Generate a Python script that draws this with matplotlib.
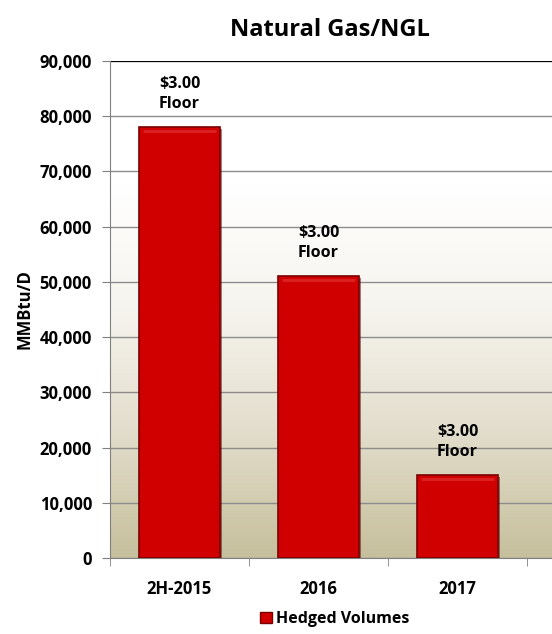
import matplotlib.pyplot as plt
import matplotlib.patheffects as pe
import numpy as np
from matplotlib.colors import LinearSegmentedColormap
from matplotlib.patches import Patch

# hedged volumes per period
periods = ['2H-2015', '2016', '2017']
volumes = [78000, 51000, 15000]
floor_labels = ['$3.00\nFloor', '$3.00\nFloor', '$3.00\nFloor']

plt.rcParams['font.family'] = ['Open Sans', 'DejaVu Sans']
plt.rcParams['font.weight'] = 'bold'

fig = plt.figure(figsize=(5.52, 6.34), dpi=100)
ax = fig.add_axes([110 / 552, 1 - 558 / 634, 1 - 110 / 552, (558 - 61) / 634])

x = np.arange(len(periods))
ax.set_xlim(-0.5, -0.5 + (552 - 110) / 139)
ax.set_ylim(0, 90000)

# white-to-tan gradient behind the bars
bg = LinearSegmentedColormap.from_list('bg', ['#c6bf9c', '#e2ddcb', '#f6f4ee', '#ffffff', '#ffffff'])
grad = np.linspace(0, 1, 256).reshape(-1, 1)
ax.imshow(grad, cmap=bg, aspect='auto', origin='lower',
          extent=[-0.5, 2.7, 0, 90000], zorder=0)

ax.yaxis.grid(True, color='#8c8c8c', linewidth=1)
ax.set_axisbelow(True)
ax.axhline(90000, color='black', linewidth=1.5, zorder=1)

bars = ax.bar(x, volumes, width=0.58, color='#d00000', edgecolor='#7a0000',
              linewidth=1.2, zorder=3)
for b in bars:
    b.set_path_effects([pe.SimplePatchShadow(offset=(1.5, -1.5), shadow_rgbFace='#4a0000', alpha=0.5),
                        pe.Normal()])
    # soft bevel along the top of each bar
    ax.plot([b.get_x() + 0.03, b.get_x() + b.get_width() - 0.03],
            [b.get_height() - 700] * 2, color='#e23a3a', linewidth=2.0, alpha=0.6,
            zorder=4, solid_capstyle='butt')

for xi, v, lab in zip(x, volumes, floor_labels):
    ax.annotate(lab, (xi, v), xytext=(0, 11), textcoords='offset points',
                ha='center', va='bottom', fontsize=11.5, fontweight='bold',
                linespacing=1.35)

ax.set_yticks(np.arange(0, 90001, 10000))
ax.set_yticklabels([f'{v:,}' for v in range(0, 90001, 10000)], fontsize=12,
                   fontweight='bold')
ax.set_xticks(x)
ax.set_xticklabels(periods, fontsize=12, fontweight='bold')
ax.set_xticks(np.arange(-0.5, 3, 1), minor=True)
ax.tick_params(axis='x', which='major', length=0, pad=16)
ax.tick_params(axis='x', which='minor', length=6, color='#808080', direction='out')
ax.tick_params(axis='y', length=6, color='#808080', pad=7)

for s in ['top', 'right']:
    ax.spines[s].set_visible(False)
ax.spines['left'].set_color('#808080')
ax.spines['bottom'].set_color('#808080')

ax.set_ylabel('MMBtu/D', fontsize=12, fontweight='bold', labelpad=4)

fig.text(330 / 552, 1 - 30 / 634, 'Natural Gas/NGL', ha='center', va='center',
         fontsize=17, fontweight='bold')

fig.legend(handles=[Patch(facecolor='#d00000', edgecolor='#7a0000')],
           labels=['Hedged Volumes'], loc='center', bbox_to_anchor=(335 / 552, 1 - 619 / 634),
           frameon=False, prop={'weight': 'bold', 'size': 11.5},
           handlelength=0.7, handleheight=0.7, handletextpad=0.3)

fig.savefig('out.png', dpi=100)
